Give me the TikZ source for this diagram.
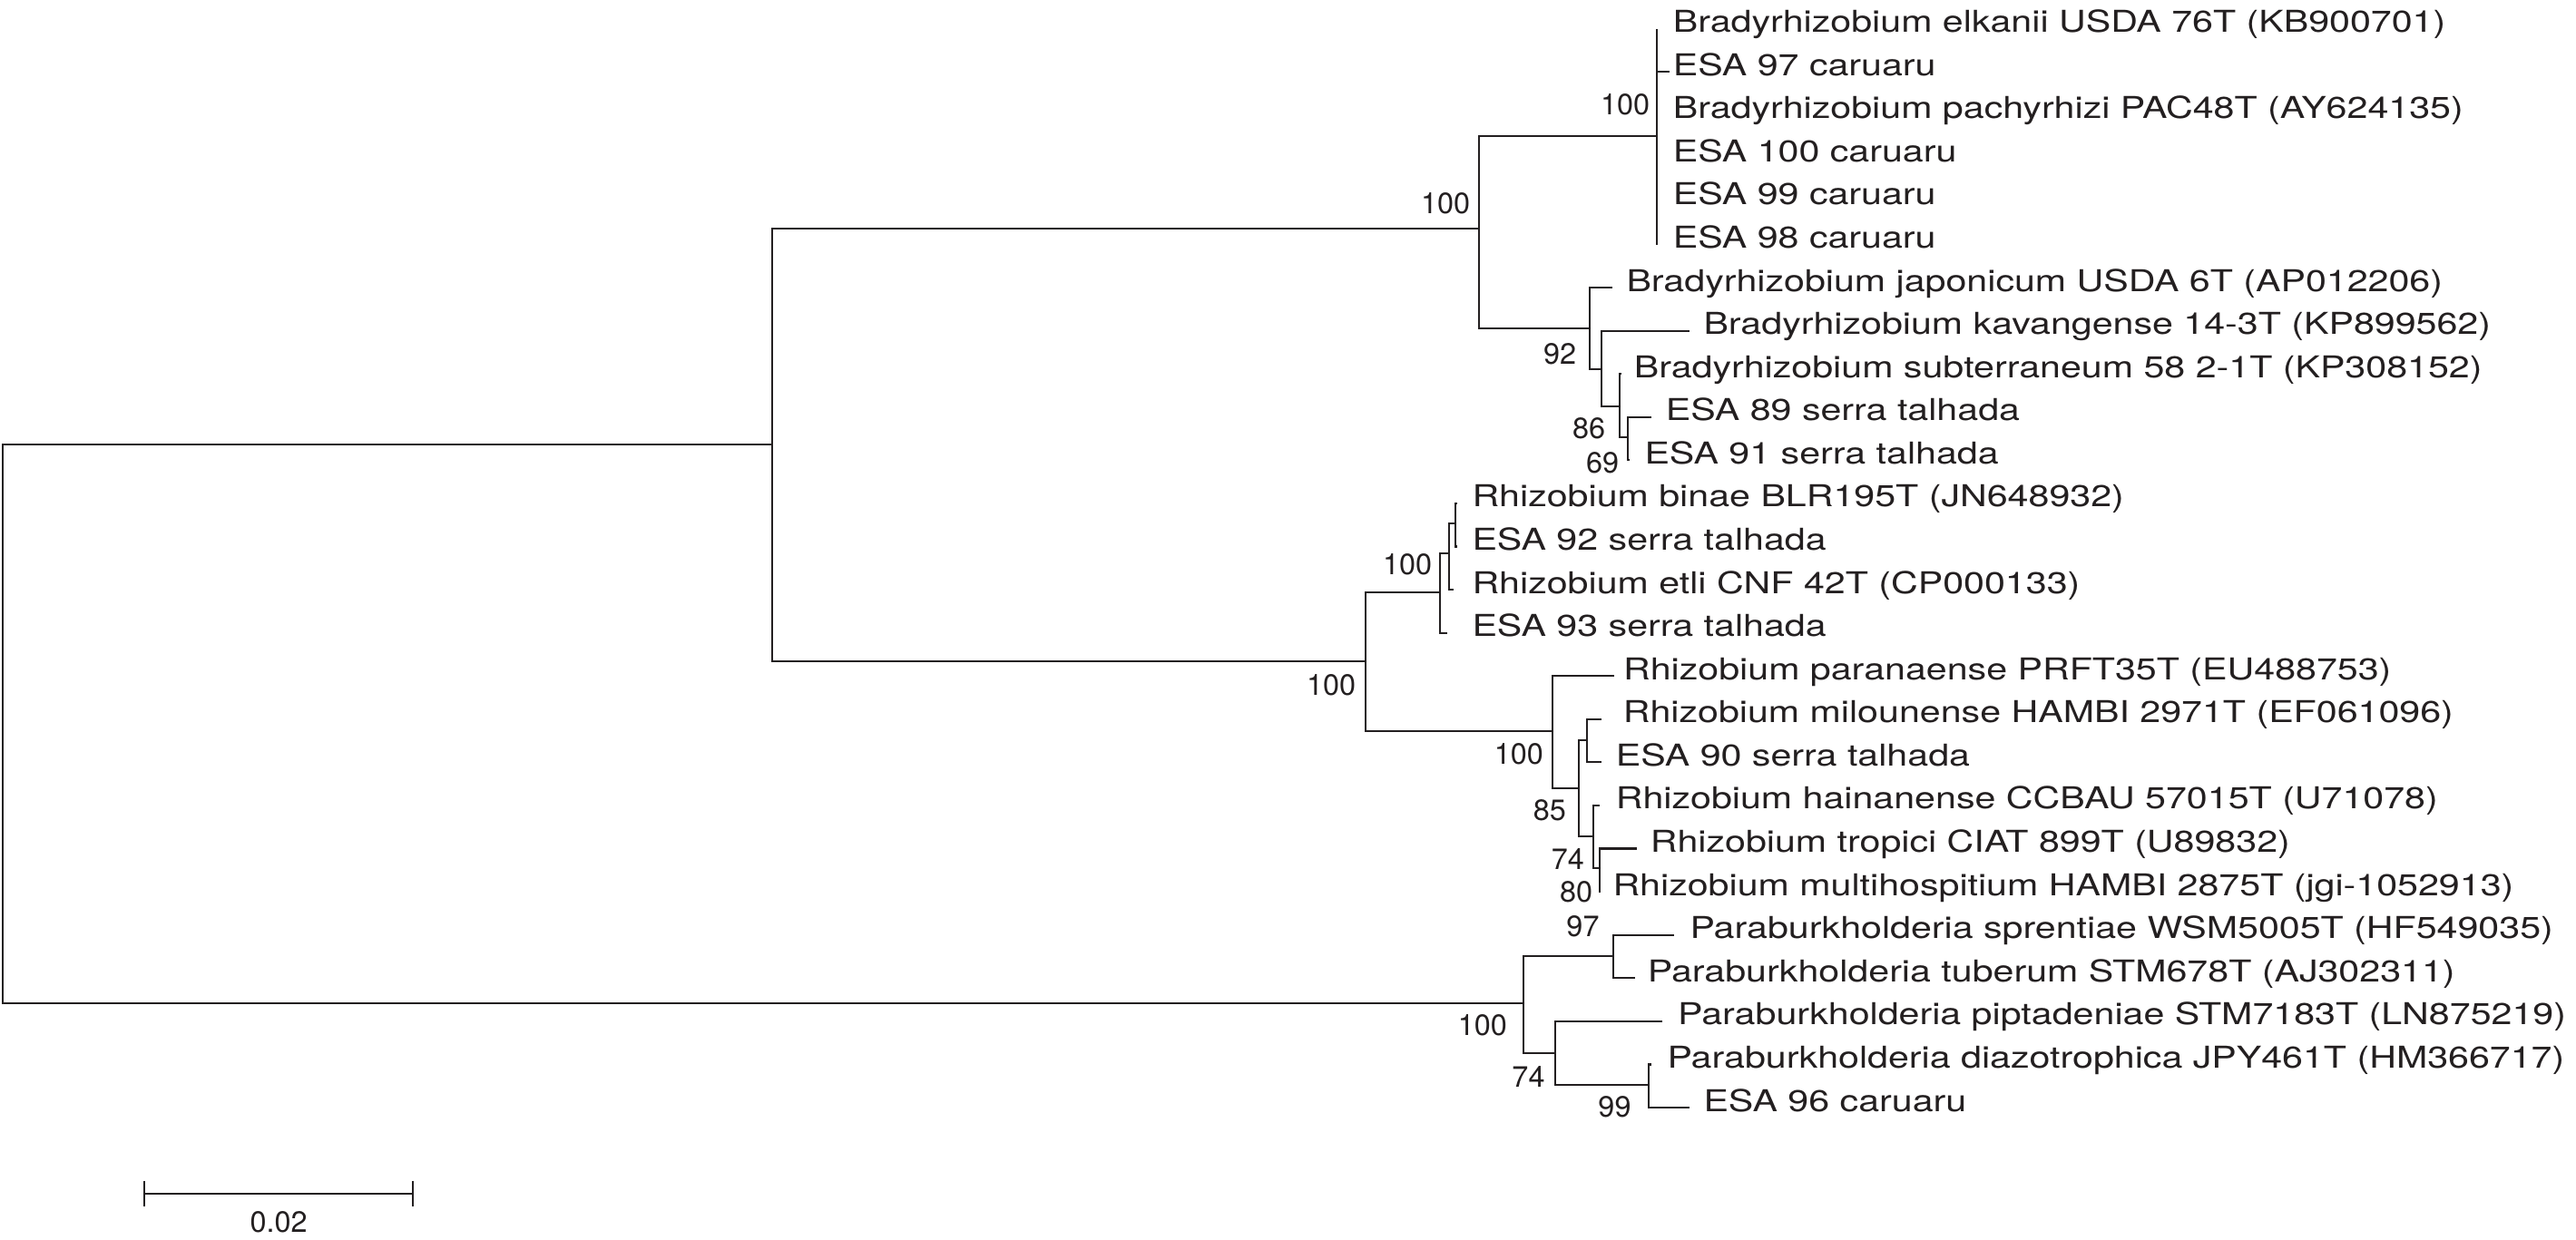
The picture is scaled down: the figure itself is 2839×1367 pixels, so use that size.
\documentclass[tikz,border=0pt]{standalone}
\usepackage{fontspec}
\setmainfont{TeX Gyre Heros}
\newfontfamily\leaffont{TeX Gyre Heros}[FakeStretch=1.24]
\definecolor{ink}{RGB}{35,31,32}
\begin{document}
\begin{tikzpicture}[x=0.25pt,y=-0.25pt,
  branch/.style={draw=ink,line width=0.55pt,line join=miter},
  leaf/.style={anchor=base west,inner sep=0pt,text=ink,font=\leaffont\fontsize{8.3}{10}\selectfont},
  boot/.style={anchor=east,inner sep=0pt,text=ink,font=\fontsize{8.1}{10}\selectfont}]
\useasboundingbox (0,0) rectangle (2839,1367);
% internal nodes
\coordinate (root) at (3,798);
\coordinate (A) at (851,490);
\coordinate (B) at (1630,252);
\coordinate (elk) at (1826,150);
\coordinate (C) at (1752,361.7);
\coordinate (D) at (1765,406.7);
\coordinate (E) at (1785,448.3);
\coordinate (F) at (1794,482.3);
\coordinate (G) at (1505,729);
\coordinate (H) at (1587,653.3);
\coordinate (I) at (1596.7,610);
\coordinate (J) at (1604,576.7);
\coordinate (K) at (1710.7,806);
\coordinate (L) at (1740,869.3);
\coordinate (M) at (1749.3,815.7);
\coordinate (N) at (1756,921.7);
\coordinate (O) at (1762.7,957.3);
\coordinate (P) at (1679.3,1106);
\coordinate (Q) at (1778.3,1054);
\coordinate (R) at (1714,1161);
\coordinate (S) at (1816.7,1196);
% leaf tips
\coordinate (t1) at (1826,31.7);
\coordinate (t2) at (1840,79.3);
\coordinate (t3) at (1826,126.8);
\coordinate (t4) at (1826,174.4);
\coordinate (t5) at (1826,222.0);
\coordinate (t6) at (1826,269.6);
\coordinate (t7) at (1776.7,317.1);
\coordinate (t8) at (1861.7,364.7);
\coordinate (t9) at (1787,412.3);
\coordinate (t10) at (1820,459.8);
\coordinate (t11) at (1796,507.4);
\coordinate (t12) at (1606,555.0);
\coordinate (t13) at (1606,602.5);
\coordinate (t14) at (1601.7,650.1);
\coordinate (t15) at (1595,697.7);
\coordinate (t16) at (1779.3,745.3);
\coordinate (t17) at (1765,792.8);
\coordinate (t18) at (1765,840.4);
\coordinate (t19) at (1763,888.0);
\coordinate (t20) at (1804,935.5);
\coordinate (t21) at (1764,983.1);
\coordinate (t22) at (1845,1030.7);
\coordinate (t23) at (1801.7,1078.2);
\coordinate (t24) at (1831.7,1125.8);
\coordinate (t25) at (1820,1173.4);
\coordinate (t26) at (1861.7,1221.0);
% branches
\draw[branch] (root) |- (A);
\draw[branch] (root) |- (P);
\draw[branch] (A) |- (B);
\draw[branch] (A) |- (G);
\draw[branch] (B) |- (elk);
\draw[branch] (B) |- (C);
\draw[branch] (elk) |- (t1);
\draw[branch] (elk) |- (t2);
\draw[branch] (elk) |- (t3);
\draw[branch] (elk) |- (t4);
\draw[branch] (elk) |- (t5);
\draw[branch] (elk) |- (t6);
\draw[branch] (C) |- (t7);
\draw[branch] (C) |- (D);
\draw[branch] (D) |- (t8);
\draw[branch] (D) |- (E);
\draw[branch] (E) |- (t9);
\draw[branch] (E) |- (F);
\draw[branch] (F) |- (t10);
\draw[branch] (F) |- (t11);
\draw[branch] (G) |- (H);
\draw[branch] (G) |- (K);
\draw[branch] (H) |- (I);
\draw[branch] (H) |- (t15);
\draw[branch] (I) |- (J);
\draw[branch] (I) |- (t14);
\draw[branch] (J) |- (t12);
\draw[branch] (J) |- (t13);
\draw[branch] (K) |- (t16);
\draw[branch] (K) |- (L);
\draw[branch] (L) |- (M);
\draw[branch] (L) |- (N);
\draw[branch] (M) |- (t17);
\draw[branch] (M) |- (t18);
\draw[branch] (N) |- (t19);
\draw[branch] (N) |- (O);
\draw[branch] (O) |- (t20);
\draw[branch] (O) |- (t21);
\draw[branch] (P) |- (Q);
\draw[branch] (P) |- (R);
\draw[branch] (Q) |- (t22);
\draw[branch] (Q) |- (t23);
\draw[branch] (R) |- (t24);
\draw[branch] (R) |- (S);
\draw[branch] (S) |- (t25);
\draw[branch] (S) |- (t26);
% leaf labels
\node[leaf] (l1) at (1843,35.7) {Bradyrhizobium elkanii USDA 76T (KB900701)};
\node[leaf] (l2) at (1843,83.3) {ESA 97 caruaru};
\node[leaf] (l3) at (1843,130.8) {Bradyrhizobium pachyrhizi PAC48T (AY624135)};
\node[leaf] (l4) at (1843,178.4) {ESA 100 caruaru};
\node[leaf] (l5) at (1843,226.0) {ESA 99 caruaru};
\node[leaf] (l6) at (1843,273.6) {ESA 98 caruaru};
\node[leaf] (l7) at (1791.7,321.1) {Bradyrhizobium japonicum USDA 6T (AP012206)};
\node[leaf] (l8) at (1876.7,368.7) {Bradyrhizobium kavangense 14-3T (KP899562)};
\node[leaf] (l9) at (1800,416.3) {Bradyrhizobium subterraneum 58 2-1T (KP308152)};
\node[leaf] (l10) at (1835,463.8) {ESA 89 serra talhada};
\node[leaf] (l11) at (1811.7,511.4) {ESA 91 serra talhada};
\node[leaf] (l12) at (1621.7,559.0) {Rhizobium binae BLR195T (JN648932)};
\node[leaf] (l13) at (1621.7,606.5) {ESA 92 serra talhada};
\node[leaf] (l14) at (1621.7,654.1) {Rhizobium etli CNF 42T (CP000133)};
\node[leaf] (l15) at (1621.7,701.7) {ESA 93 serra talhada};
\node[leaf] (l16) at (1788.3,749.3) {Rhizobium paranaense PRFT35T (EU488753)};
\node[leaf] (l17) at (1788,796.8) {Rhizobium milounense HAMBI 2971T (EF061096)};
\node[leaf] (l18) at (1780,844.4) {ESA 90 serra talhada};
\node[leaf] (l19) at (1780,892.0) {Rhizobium hainanense CCBAU 57015T (U71078)};
\node[leaf] (l20) at (1818,939.5) {Rhizobium tropici CIAT 899T (U89832)};
\node[leaf] (l21) at (1776.7,987.1) {Rhizobium multihospitium HAMBI 2875T (jgi-1052913)};
\node[leaf] (l22) at (1861.7,1034.7) {Paraburkholderia sprentiae WSM5005T (HF549035)};
\node[leaf] (l23) at (1815,1082.2) {Paraburkholderia tuberum STM678T (AJ302311)};
\node[leaf] (l24) at (1848.3,1129.8) {Paraburkholderia piptadeniae STM7183T (LN875219)};
\node[leaf] (l25) at (1836.7,1177.4) {Paraburkholderia diazotrophica JPY461T (HM366717)};
\node[leaf] (l26) at (1876.7,1225.0) {ESA 96 caruaru};
% bootstrap values
\node[boot] (bB) at (1621,224) {100};
\node[boot] (belk) at (1819,115) {100};
\node[boot] (bC) at (1738,390) {92};
\node[boot] (bE) at (1770,472.7) {86};
\node[boot] (bF) at (1785,510) {69};
\node[boot] (bH) at (1579,622.7) {100};
\node[boot] (bG) at (1495,755) {100};
\node[boot] (bK) at (1701.7,831.7) {100};
\node[boot] (bL) at (1726.7,893.3) {85};
\node[boot] (bN) at (1746.7,946.7) {74};
\node[boot] (bO) at (1756,983.3) {80};
\node[boot] (bQ) at (1763.3,1021.7) {97};
\node[boot] (bP) at (1661.7,1130) {100};
\node[boot] (bR) at (1703.3,1186.7) {74};
\node[boot] (bS) at (1798.3,1220) {99};
% scale bar
\coordinate (sbL) at (159.3,1316);
\coordinate (sbR) at (455,1316);
\draw[branch] (sbL) -- (sbR);
\draw[branch] ([yshift=3.6pt]sbL) -- ([yshift=-3.5pt]sbL);
\draw[branch] ([yshift=3.6pt]sbR) -- ([yshift=-3.5pt]sbR);
\node[anchor=base,inner sep=0pt,text=ink,font=\fontsize{8.1}{10}\selectfont] (sbt) at (307.2,1358.3) {0.02};
\end{tikzpicture}
\end{document}
